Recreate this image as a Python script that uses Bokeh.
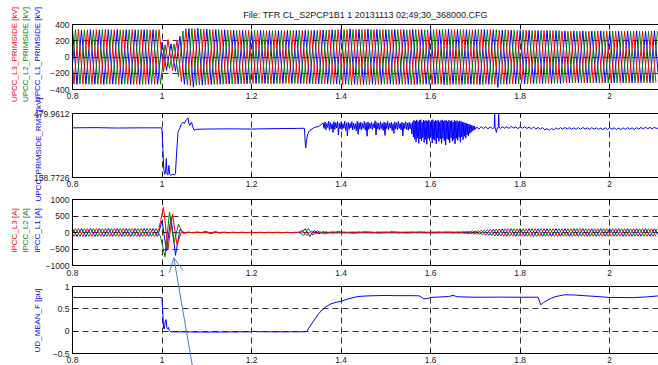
import math
from bokeh.plotting import figure
from bokeh.layouts import column
from bokeh.models import LinearAxis, FixedTicker, Range1d, Arrow, OpenHead, Label
from bokeh.embed import file_html
from bokeh.resources import INLINE

TITLE = "File: TFR CL_S2PCP1B1 1 20131113 02;49;30_368000.CFG"
X_START, X_END = 0.8, 2.109
X_TICKS = [0.8, 1.0, 1.2, 1.4, 1.6, 1.8, 2.0]
X_TICK_LABELS = ["0.8", "1", "1.2", "1.4", "1.6", "1.8", "2"]

RED, GREEN, BLUE = "#ff0000", "#008000", "#0000ff"
ARROW_C = "#4a7ebb"
FONT = "Liberation Sans"

# half-cycle sample grid (50 Hz) start offsets of each phase
OFF_L1, OFF_L2, OFF_L3 = 0.0, -0.00333, -0.00667

# ---- panel 1: phase voltages [kV], one value per half cycle ----
v_l1 = [335,-338,333,-336,337,-335,334,-339,336,-334,
        338,-336,335,-337,334,-338,336,-335,337,-336,
        185,-165,160,-175,255,-335,348,-372,352,-346,
        342,-340,338,-336,335,-333,330,-332,328,-330,
        326,-328,330,-325,327,-329,324,-326,328,-327,
        325,-327,329,-326,331,-328,333,-330,335,-332,
        342,-335,345,-336,340,-338,342,-335,339,-337,
        336,-334,338,-335,337,-336,340,-338,336,-335,
        338,-337,335,-340,342,-336,339,-338,337,-335,
        336,-339,338,-336,335,-375,333,-336,332,-330,
        328,-331,330,-327,326,-329,327,-326,325,-328,
        322,-318,320,-316,321,-317,319,-315,320,-318,
        321,-316,319,-317,320,-318,322,-316,319,-317,321,-318]
v_l2 = [-334,336,-332,335,-337,333,-335,338,-334,336,
        -337,335,-333,336,-338,334,-336,337,-335,333,
        -336,150,-140,160,-240,320,-345,352,-348,344,
        -341,339,-337,336,-334,332,-331,330,-329,327,
        -327,329,-326,328,-330,325,-327,329,-325,327,
        -326,328,-330,327,-332,329,-334,331,-336,333,
        -340,337,-343,338,-341,336,-339,337,-340,336,
        -335,337,-339,336,-338,335,-341,337,-335,336,
        -339,336,-334,341,-343,337,-338,339,-336,334,
        -337,338,-339,335,-336,338,-334,335,-331,329,
        -329,330,-331,326,-327,328,-326,325,-326,327,
        -321,317,-319,318,-320,316,-318,317,-321,316,
        -320,318,-318,316,-321,317,-321,318,-318,316,-320,317]
v_l3 = [336,-333,337,-335,334,-338,335,-336,338,-334,
        335,-337,336,-334,338,-335,337,-336,334,-337,
        336,-180,215,-165,205,-305,348,-350,346,-343,
        340,-338,336,-337,333,-334,330,-331,327,-329,
        328,-326,329,-327,325,-330,326,-328,327,-325,
        327,-329,326,-330,328,-331,332,-333,334,-335,
        339,-341,336,-342,337,-340,338,-341,336,-338,
        337,-335,336,-339,338,-337,336,-340,338,-336,
        335,-338,340,-336,337,-341,336,-339,338,-334,
        335,-337,339,-334,337,-336,331,-334,330,-331,
        327,-328,329,-327,326,-328,325,-327,326,-325,
        319,-320,317,-319,318,-321,316,-319,320,-317,
        318,-321,319,-316,320,-319,317,-320,318,-317,319,-316]

# ---- panel 2: RMS voltage [kV] ----
rms_t_pre = [0.8, 0.85, 0.9, 0.95, 0.999, 1.000, 1.002, 1.004, 1.006, 1.008,
             1.0095, 1.011, 1.013, 1.0153, 1.017, 1.020, 1.024, 1.028, 1.030, 1.033,
             1.036, 1.039, 1.043, 1.047, 1.050, 1.053, 1.056, 1.058, 1.060, 1.062,
             1.064, 1.066, 1.069, 1.072, 1.076, 1.080, 1.10, 1.15, 1.20, 1.25,
             1.30, 1.318, 1.320, 1.321, 1.323, 1.326, 1.330, 1.335, 1.340, 1.350]
rms_v_pre = [408, 409, 407, 408, 408, 395, 300, 200, 175, 190,
             254, 180, 172, 219, 176, 170, 175, 172, 180, 300,
             390, 403, 425, 436, 430, 445, 450, 458, 430, 420,
             432, 436, 410, 395, 400, 401, 402, 403, 402, 404,
             405, 406, 330, 308, 350, 380, 395, 402, 410, 415]
rms_band_a_start, rms_band_a_step = 1.36, 0.002
rms_band_a = [432,405,438,398,430,410,441,396,435,402,428,385,439,400,434,408,440,372,431,403,
              437,399,429,406,442,395,433,368,436,401,430,407,439,397,432,404,428,392,441,375,
              434,402,437,398,430,406,440,396,433,366,438,400,431,405,436,399,429,408,443,372,
              435,401,432,397,439,404,430,395,437,370,433,403,440,398,431,406,436,394,429,380,
              438,402,434,399,441,405,430,397,437,368,432,404,439,400,433,396,436,402,430,378]
rms_band_b_start, rms_band_b_step = 1.56, 0.0015
rms_band_b = [438,362,446,350,442,338,448,356,440,330,445,352,449,342,436,358,447,335,443,350,
              446,326,441,355,448,344,437,360,445,332,449,351,440,345,446,328,443,357,447,340,
              438,352,445,330,448,356,441,343,446,322,444,354,439,347,447,333,442,358,445,341,
              437,350,446,328,441,355,444,345,438,360,443,336,440,362,437,348,435,366,433,356,
              430,372,428,368,426,380,423,386,421,392,418,396,416,400]
rms_t_post = [1.703, 1.708, 1.713, 1.718, 1.723, 1.728, 1.733, 1.738, 1.742, 1.743,
              1.744, 1.747, 1.749, 1.751, 1.752, 1.753, 1.756]
rms_v_post = [412, 402, 414, 404, 413, 403, 412, 405, 408, 480,
              410, 385, 408, 410, 478, 410, 404]
rms_band_c_start, rms_band_c_step = 1.76, 0.005
rms_band_c = [414,406,413,405,415,407,412,404,414,406,413,405,411,403,412,402,410,401,409,398,
              404,396,405,398,408,400,409,401,410,402,409,401,408,400,409,401,410,402,408,400,
              409,401,408,400,407,399,408,400,409,401,408,400,407,399,408,400,409,401,408,400,
              409,402,410,403,411,404,410,403,411,404,410]
RMS_LO, RMS_HI = 158.7726, 479.9612

# ---- panel 3: phase currents [A], one value per half cycle ----
i_l1 = [118,-121,119,-117,122,-120,118,-119,121,-118,
        120,-118,117,-121,119,-120,122,-118,117,-119,
        350,-560,480,-690,90,-18,10,-8,12,-6,
        25,-30,20,-12,8,-6,5,-4,6,-5,
        6,-5,4,-6,5,-4,6,-5,4,-5,
        5,-6,110,-120,60,-40,25,-20,22,-18,
        20,-18,15,-22,18,-15,20,-18,15,-20,
        18,-15,20,-18,15,-19,18,-15,20,-18,
        15,-18,20,-15,18,-20,19,-18,25,-30,
        40,-50,65,-80,95,-105,110,-112,115,-114,
        116,-113,115,-117,114,-116,113,-115,117,-114,
        115,-116,114,-113,116,-115,113,-117,115,-114,
        116,-114,115,-116,113,-115,116,-114,115,-116,114,-115]
i_l2 = [-120,118,-122,119,-117,121,-119,118,-120,117,
        -118,120,-121,117,-119,122,-118,120,-117,119,
        -125,-740,620,-320,250,-25,12,-8,10,-6,
        30,-35,25,-15,10,-8,6,-5,7,-5,
        5,-6,5,-4,6,-5,4,-6,5,-4,
        6,-5,-90,120,-80,50,-25,22,-20,18,
        -18,20,-15,19,-22,16,-18,20,-16,18,
        -20,15,-18,20,-15,18,-20,16,-18,20,
        -16,18,-20,15,-19,22,-18,20,-28,35,
        -45,55,-70,85,-98,106,-110,113,-114,116,
        -113,115,-116,114,-115,117,-113,115,-114,116,
        -115,114,-116,115,-113,116,-114,115,-116,113,
        -114,116,-115,113,-116,114,-115,116,-113,115,-116,114]
i_l3 = [121,-118,120,-122,118,-119,121,-117,119,-120,
        118,-121,119,-118,120,-117,122,-119,118,-120,
        125,770,-500,560,-360,15,0,0,3,-2,
        0,2,-3,0,5,-4,0,3,-2,0,
        2,-3,0,4,-2,0,3,-3,0,2,
        -2,3,60,-90,40,-35,20,-45,15,-30,
        40,-20,12,-35,18,-15,30,-18,12,-28,
        20,-15,32,-18,14,-25,22,-15,25,-20,
        15,-22,20,-15,25,-20,18,-26,30,-38,
        48,-58,72,-86,100,-108,112,-114,115,-113,
        116,-114,113,-117,115,-114,116,-113,115,-116,
        114,-115,116,-113,115,-116,114,-115,113,-116,
        115,-116,114,-115,116,-113,115,-114,116,-115,114,-116]

# ---- panel 4: UD_MEAN_F [pu] ----
ud_t = [0.8, 0.85, 0.9, 0.95, 0.998, 1.0, 1.002, 1.0035, 1.005, 1.0075,
        1.009, 1.011, 1.013, 1.0145, 1.016, 1.02, 1.1, 1.2, 1.205, 1.21,
        1.25, 1.3, 1.323, 1.33, 1.34, 1.35, 1.355, 1.365, 1.377, 1.39,
        1.40, 1.415, 1.437, 1.46, 1.50, 1.52, 1.56, 1.575, 1.585, 1.595,
        1.60, 1.62, 1.64, 1.65, 1.66, 1.70, 1.75, 1.80, 1.84, 1.846,
        1.852, 1.86, 1.87, 1.88, 1.90, 1.92, 1.95, 1.98, 2.0, 2.05,
        2.08, 2.11]
ud_v = [0.755, 0.752, 0.756, 0.753, 0.755, 0.74, 0.35, 0.06, 0.05, 0.24,
        0.26, 0.06, 0.05, 0.08, 0.02, -0.015, -0.02, -0.015, 0.0, -0.012,
        -0.015, -0.015, -0.012, 0.1, 0.25, 0.39, 0.45, 0.54, 0.61, 0.65,
        0.67, 0.72, 0.776, 0.79, 0.80, 0.795, 0.795, 0.79, 0.725, 0.735,
        0.755, 0.765, 0.775, 0.80, 0.77, 0.76, 0.762, 0.76, 0.76, 0.59,
        0.64, 0.69, 0.74, 0.776, 0.815, 0.81, 0.79, 0.77, 0.755, 0.75,
        0.765, 0.79]

# ---- y labels of the four panels: (text, colour) ----
labels_p1 = [("UPCC_L3_PRIMSIDE [kV]", RED), ("UPCC_L2_PRIMSIDE [kV]", GREEN),
             ("UPCC_L1_PRIMSIDE [kV]", BLUE)]
labels_p2 = [("UPCC_PRIMSIDE_RMS [kV]", BLUE)]
labels_p3 = [("IPCC_L3 [A]", RED), ("IPCC_L2 [A]", GREEN), ("IPCC_L1 [A]", BLUE)]
labels_p4 = [("UD_MEAN_F [pu]", BLUE)]


def grid_times(offset, n):
    return [X_START + offset + 0.01 * k for k in range(n)]


def style_axis(ax):
    ax.major_tick_in = 4
    ax.major_tick_out = 0
    ax.minor_tick_in = 0
    ax.minor_tick_out = 0
    ax.minor_tick_line_color = None
    ax.axis_line_color = "black"
    ax.major_tick_line_color = "black"
    ax.major_label_text_font = FONT
    ax.major_label_text_font_size = "8.5px"
    ax.major_label_text_color = "#1a1a1a"
    ax.major_label_standoff = 3


def make_fig(height, top, bottom, y0, y1, yticks, ygrid=True, xstandoff=3):
    p = figure(width=658, height=height, x_range=Range1d(X_START, X_END),
               y_range=Range1d(y0, y1), output_backend="svg", toolbar_location=None,
               min_border_left=72, min_border_right=0, min_border_top=top,
               min_border_bottom=bottom, outline_line_color=None,
               background_fill_color="white", border_fill_color="white")
    p.xaxis.ticker = FixedTicker(ticks=X_TICKS)
    p.xaxis.major_label_overrides = {t: s for t, s in zip(X_TICKS, X_TICK_LABELS)}
    p.yaxis.ticker = FixedTicker(ticks=yticks)
    style_axis(p.xaxis[0])
    style_axis(p.yaxis[0])
    p.xaxis.major_label_standoff = xstandoff
    # top box edge with inward ticks, no labels
    topax = LinearAxis(ticker=FixedTicker(ticks=X_TICKS))
    style_axis(topax)
    topax.major_label_text_font_size = "1px"
    topax.major_label_text_color = None
    topax.major_label_standoff = 0
    p.add_layout(topax, "above")
    p.xgrid.ticker = FixedTicker(ticks=X_TICKS)
    p.ygrid.ticker = FixedTicker(ticks=yticks)
    for g in (p.xgrid[0], p.ygrid[0]):
        g.grid_line_color = "#303030"
        g.grid_line_dash = "6 4"
        g.grid_line_width = 1
    if not ygrid:
        p.ygrid.visible = False
    return p


# panel 1
p1 = make_fig(104, 24, 15, -400, 400, [-400, -200, 0, 200, 400])
p1.line(grid_times(OFF_L1, len(v_l1)), v_l1, line_color=BLUE, line_width=1)
p1.line(grid_times(OFF_L2, len(v_l2)), v_l2, line_color=GREEN, line_width=1)
p1.line(grid_times(OFF_L3, len(v_l3)), v_l3, line_color=RED, line_width=1)

# panel 2
p2 = make_fig(88, 9, 15, RMS_LO, RMS_HI, [RMS_LO, RMS_HI], ygrid=False)
p2.yaxis.major_label_overrides = {RMS_LO: "158.7726", RMS_HI: "479.9612"}
rms_t = (rms_t_pre
         + [rms_band_a_start + rms_band_a_step * k for k in range(len(rms_band_a))]
         + [rms_band_b_start + rms_band_b_step * k for k in range(len(rms_band_b))]
         + rms_t_post
         + [rms_band_c_start + rms_band_c_step * k for k in range(len(rms_band_c))])
rms_v = rms_v_pre + rms_band_a + rms_band_b + rms_v_post + rms_band_c
p2.line(rms_t, rms_v, line_color=BLUE, line_width=1)

# panel 3
p3 = make_fig(88, 7, 15, -1000, 1000, [-1000, -500, 0, 500, 1000], xstandoff=4)
p3.line(grid_times(OFF_L1, len(i_l1)), i_l1, line_color=BLUE, line_width=1)
p3.line(grid_times(OFF_L2, len(i_l2)), i_l2, line_color=GREEN, line_width=1)
p3.line(grid_times(OFF_L3, len(i_l3)), i_l3, line_color=RED, line_width=1)

# panel 4
p4 = make_fig(85, 6, 12, -0.5, 1.0, [-0.5, 0, 0.5, 1])
p4.line(ud_t, ud_v, line_color=BLUE, line_width=1)

# transparent overlay over the whole page (pixel coordinates, y downwards)
ov = figure(width=658, height=365, x_range=Range1d(0, 658), y_range=Range1d(365, 0),
            x_axis_type=None, y_axis_type=None, min_border=0, min_border_left=0,
            min_border_right=0, min_border_top=0, min_border_bottom=0,
            toolbar_location=None, output_backend="svg", outline_line_color=None,
            background_fill_alpha=0, border_fill_alpha=0)
ov.grid.visible = False
ov.title.visible = False
ov.frame_align = False
ov.margin = (-365, 0, 0, 0)

ov.add_layout(Label(x=365, y=14.5, text=TITLE, text_align="center", text_baseline="middle",
                    text_color="#222222", text_font=FONT, text_font_size="9px"))

LABEL_X = [14, 25, 36.5]
label_groups = [(labels_p1, LABEL_X, 54), (labels_p2, [37.5], 149),
                (labels_p3, LABEL_X, 230), (labels_p4, [37], 320)]
for group, xs, yc in label_groups:
    for (txt, col), xx in zip(group, xs):
        ov.add_layout(Label(x=xx, y=yc, text=txt, angle=math.pi / 2,
                            text_align="center", text_baseline="middle",
                            text_color=col, text_font=FONT, text_font_size="8px"))

ov.add_layout(Arrow(end=OpenHead(size=14, line_color=ARROW_C, line_width=1), start=None,
                    x_start=192, y_start=366, x_end=173.3, y_end=257.3,
                    line_color=ARROW_C, line_width=1))

layout = column(p1, p2, p3, p4, ov, spacing=0)
open("out.html", "w").write(file_html(layout, INLINE))
